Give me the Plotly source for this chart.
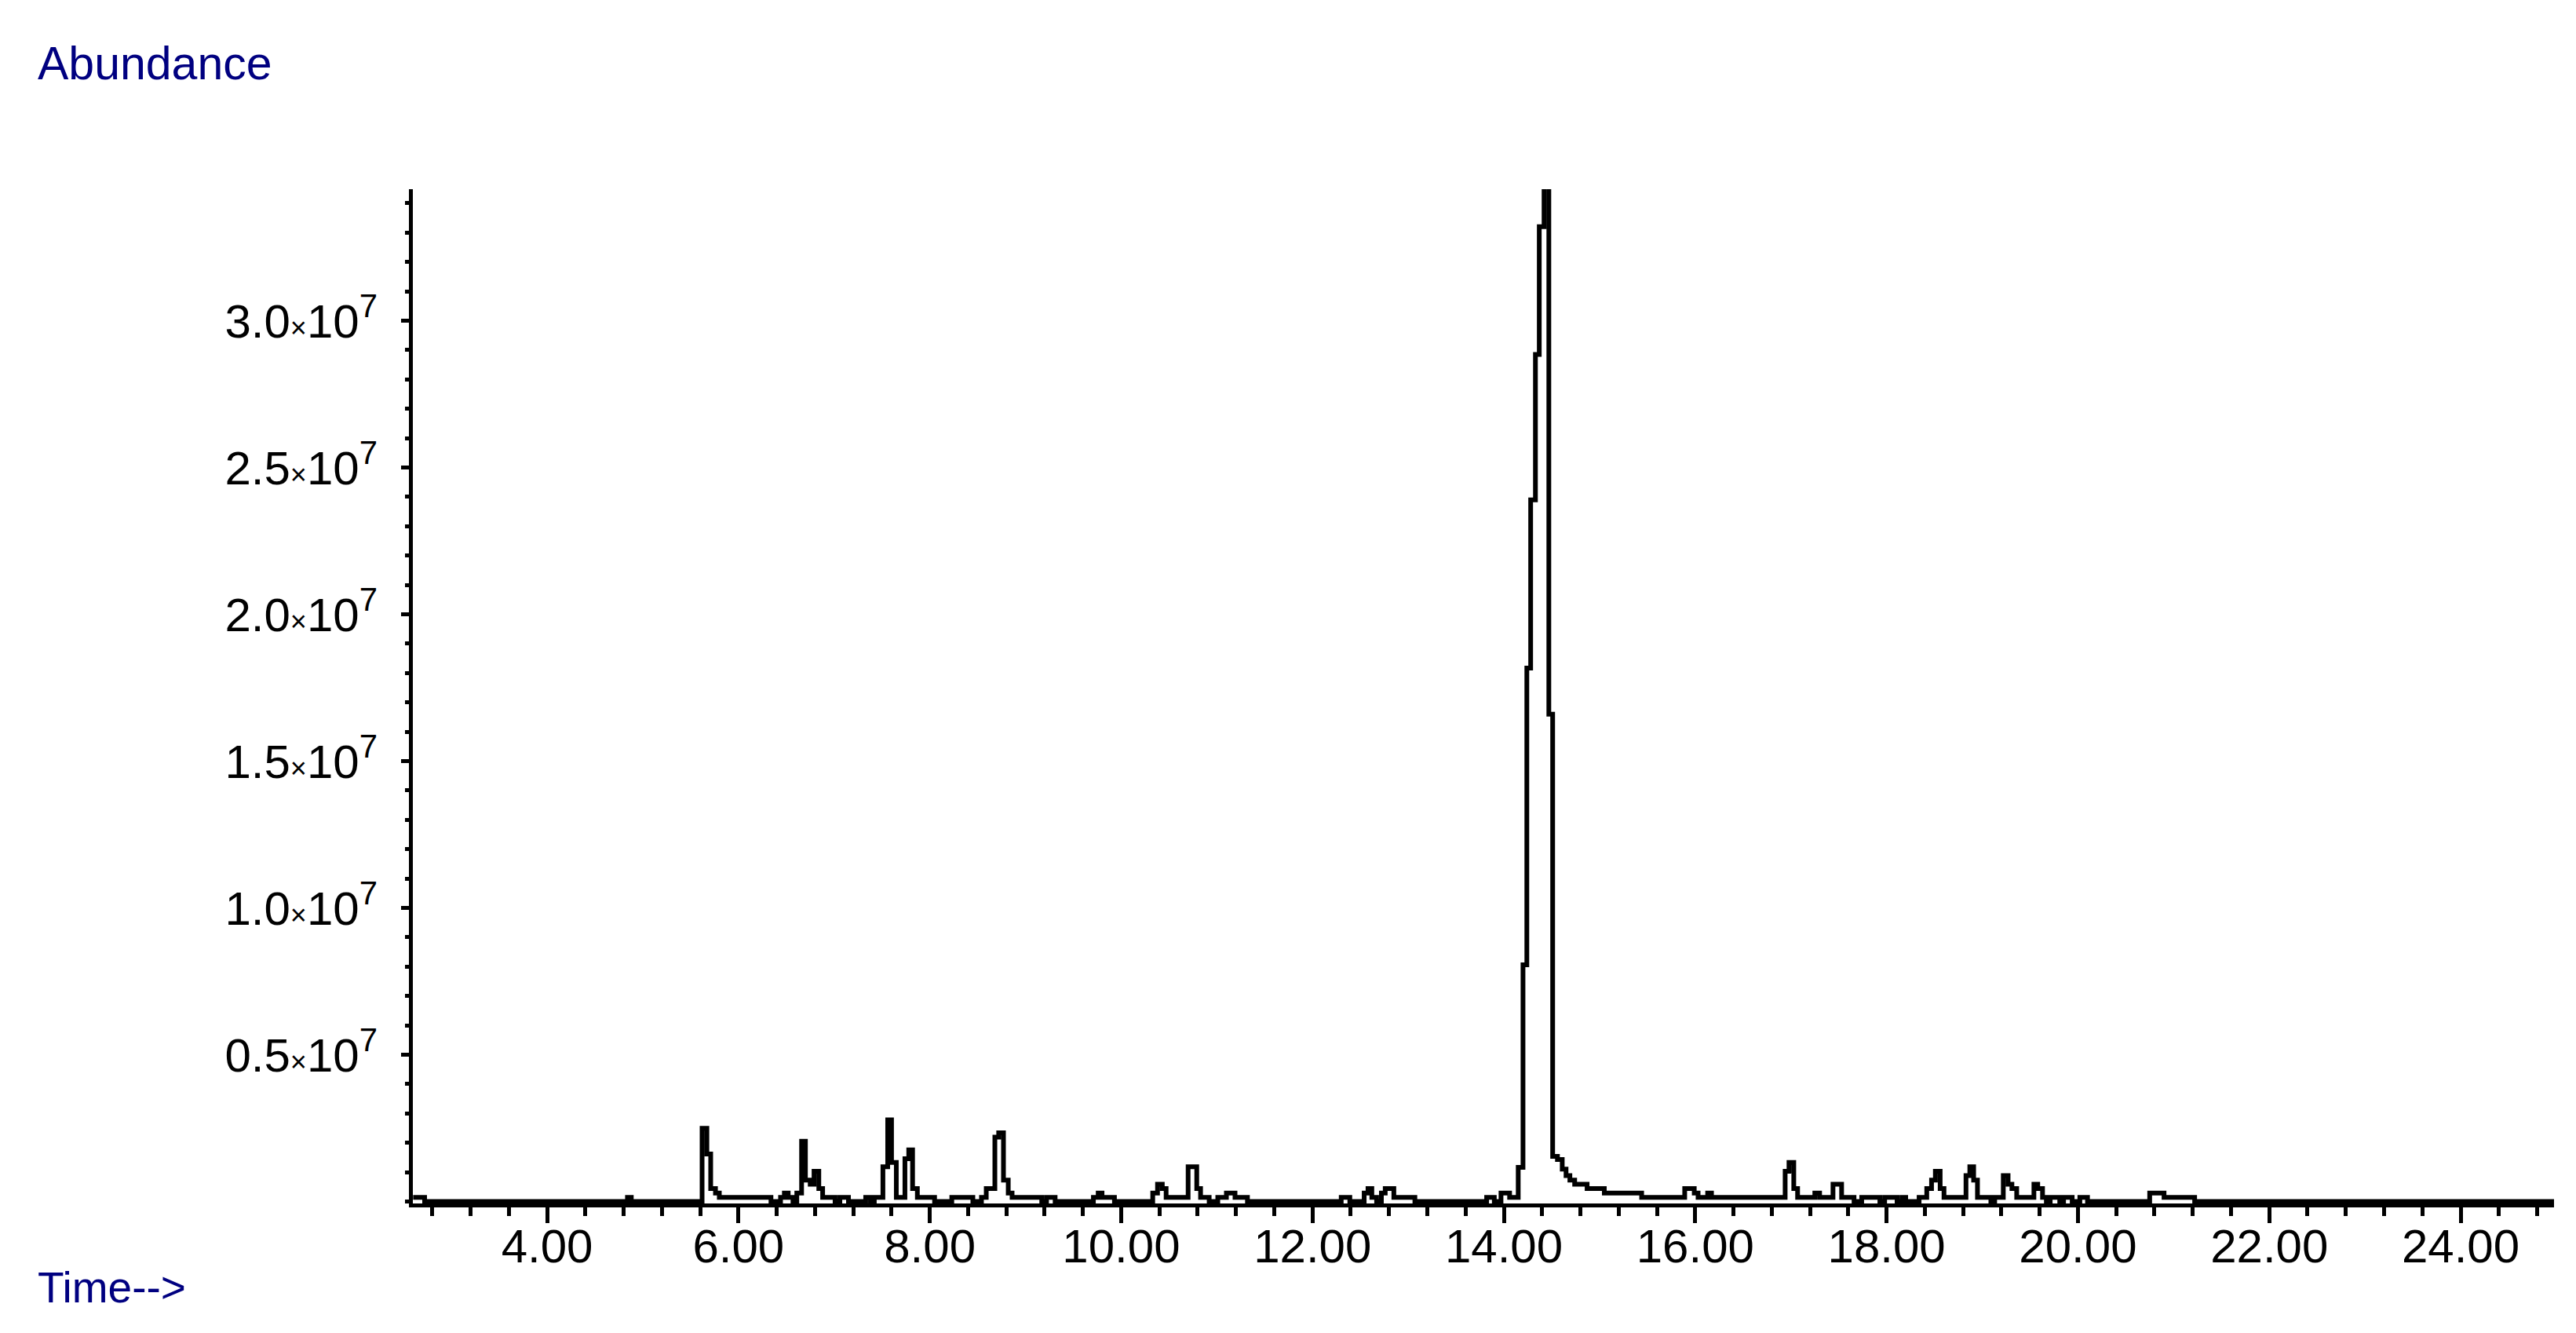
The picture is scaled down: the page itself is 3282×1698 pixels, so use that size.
import plotly.graph_objects as go

# Total ion chromatogram (time in minutes, abundance in counts)
rt_min = [
    2.60, 2.72, 4.84, 4.88,
    5.62, 5.67, 5.71, 5.76, 5.80, 6.34, 6.44, 6.48, 6.52, 6.57,
    6.61, 6.66, 6.70, 6.75, 6.79, 6.84, 6.88, 7.01, 7.06, 7.15,
    7.33, 7.38, 7.42, 7.51, 7.56, 7.60, 7.65, 7.74, 7.78, 7.82,
    7.87, 8.05, 8.23, 8.45, 8.54, 8.59, 8.68, 8.72, 8.77, 8.82,
    8.86, 9.17, 9.22, 9.31, 9.71, 9.76, 9.80, 9.93,
    10.33, 10.38, 10.43, 10.47, 10.70, 10.79, 10.83, 10.92, 11.01, 11.10,
    11.19, 11.32, 12.30, 12.39, 12.54, 12.58, 12.62, 12.67, 12.72, 12.76,
    12.85, 13.07, 13.82, 13.90, 13.97, 14.06,
    14.15, 14.20, 14.24, 14.28, 14.33, 14.37, 14.42, 14.47, 14.51, 14.56,
    14.61, 14.65, 14.69, 14.74, 14.87, 15.05, 15.44, 15.89, 15.99, 16.03,
    16.13, 16.17, 16.94, 16.98, 17.03, 17.07, 17.25, 17.30, 17.44, 17.53,
    17.66, 17.74, 17.93, 17.98, 18.11, 18.16, 18.20, 18.34, 18.42, 18.47,
    18.51, 18.56, 18.60, 18.83, 18.87, 18.91, 18.95, 19.09, 19.13, 19.22,
    19.27, 19.31, 19.36, 19.54, 19.58, 19.63, 19.67, 19.71, 19.81, 19.85,
    19.94, 20.02, 20.10, 20.75, 20.90, 21.22, 24.98,
]
abundance = [
    1.43e5, 0, 1.43e5, 0,
    2.49e6, 1.62e6, 4.4e5, 2.85e5, 1.43e5, 0, 1.43e5, 2.85e5, 1.43e5, 0,
    2.85e5, 2.05e6, 7.3e5, 5.9e5, 1.03e6, 4.4e5, 1.43e5, 0, 1.43e5, 0,
    1.43e5, 0, 1.43e5, 1.18e6, 2.78e6, 1.33e6, 1.43e5, 1.46e6, 1.76e6, 4.4e5,
    1.43e5, 0, 1.43e5, 0, 1.43e5, 4.4e5, 2.19e6, 2.34e6, 7.3e5, 2.85e5,
    1.43e5, 0, 1.43e5, 0, 1.43e5, 2.85e5, 1.43e5, 0,
    2.85e5, 5.9e5, 4.4e5, 1.43e5, 1.18e6, 4.4e5, 1.43e5, 0, 1.43e5, 2.85e5,
    1.43e5, 0, 1.43e5, 0, 2.85e5, 4.4e5, 1.43e5, 0, 2.85e5, 4.4e5,
    1.43e5, 0, 1.43e5, 0, 2.85e5, 1.43e5,
    1.16e6, 8.06e6, 1.817e7, 2.39e7, 2.885e7, 3.32e7, 3.46e7, 1.66e7, 1.54e6, 1.43e6,
    1.1e6, 8.8e5, 7.3e5, 5.9e5, 4.4e5, 2.85e5, 1.43e5, 4.4e5, 2.85e5, 1.43e5,
    2.85e5, 1.43e5, 1.03e6, 1.33e6, 4.4e5, 1.43e5, 2.85e5, 1.43e5, 5.9e5, 1.43e5,
    0, 1.43e5, 0, 1.43e5, 0, 1.43e5, 0, 1.43e5, 4.4e5, 7.3e5,
    1.03e6, 4.4e5, 1.43e5, 8.8e5, 1.18e6, 7.3e5, 1.43e5, 0, 1.43e5, 8.8e5,
    5.9e5, 4.4e5, 1.43e5, 5.9e5, 4.4e5, 1.43e5, 0, 1.43e5, 0, 1.43e5,
    0, 1.43e5, 0, 2.85e5, 1.43e5, 0, 0,
]

# y tick labels
y_tickvals = [0.5e7, 1.0e7, 1.5e7, 2.0e7, 2.5e7, 3.0e7]
y_mantissa = ["0.5", "1.0", "1.5", "2.0", "2.5", "3.0"]
y_ticktext = [m + "<span style='font-size:36px'>×</span>10<sup>7</sup>" for m in y_mantissa]

FONT = "Liberation Sans, Arial, sans-serif"
NAVY = "#000080"

fig = go.Figure()
fig.add_trace(go.Scatter(
    x=rt_min, y=abundance, mode="lines",
    line=dict(color="black", width=6, shape="hv"),
    showlegend=False, hoverinfo="x+y",
))

fig.update_xaxes(
    range=[2.597, 24.976],
    showline=True, linecolor="black", linewidth=5,
    showgrid=False, zeroline=False,
    tick0=0, dtick=2, tickformat=".2f",
    ticks="outside", ticklen=20, tickwidth=5, tickcolor="black",
    minor=dict(tick0=0, dtick=0.4, ticks="outside", ticklen=11, tickwidth=5, tickcolor="black"),
    tickfont=dict(family=FONT, size=60, color="black"),
    ticklabelstandoff=-22,
)
fig.update_yaxes(
    range=[-0.067e6, 3.448e7],
    showline=True, linecolor="black", linewidth=5,
    showgrid=False, zeroline=False,
    tickmode="array", tickvals=y_tickvals, ticktext=y_ticktext,
    ticks="outside", ticklen=10, tickwidth=5, tickcolor="black",
    minor=dict(tickmode="linear", tick0=0, dtick=1e6, ticks="outside", ticklen=5, tickwidth=5, tickcolor="black"),
    tickfont=dict(family=FONT, size=60, color="black"),
    ticklabelstandoff=18,
)

fig.add_annotation(text="Abundance", xref="paper", yref="paper", x=-0.176, y=1.1238,
                   xanchor="left", yanchor="middle", showarrow=False,
                   font=dict(family=FONT, size=59, color=NAVY))
fig.add_annotation(text="Time-->", xref="paper", yref="paper", x=-0.176, y=-0.083,
                   xanchor="left", yanchor="middle", showarrow=False,
                   font=dict(family=FONT, size=55, color=NAVY))

fig.update_layout(
    width=3282, height=1698,
    margin=dict(l=518, r=36, t=233, b=173),
    paper_bgcolor="white", plot_bgcolor="white",
)

fig.write_html("out.html")
